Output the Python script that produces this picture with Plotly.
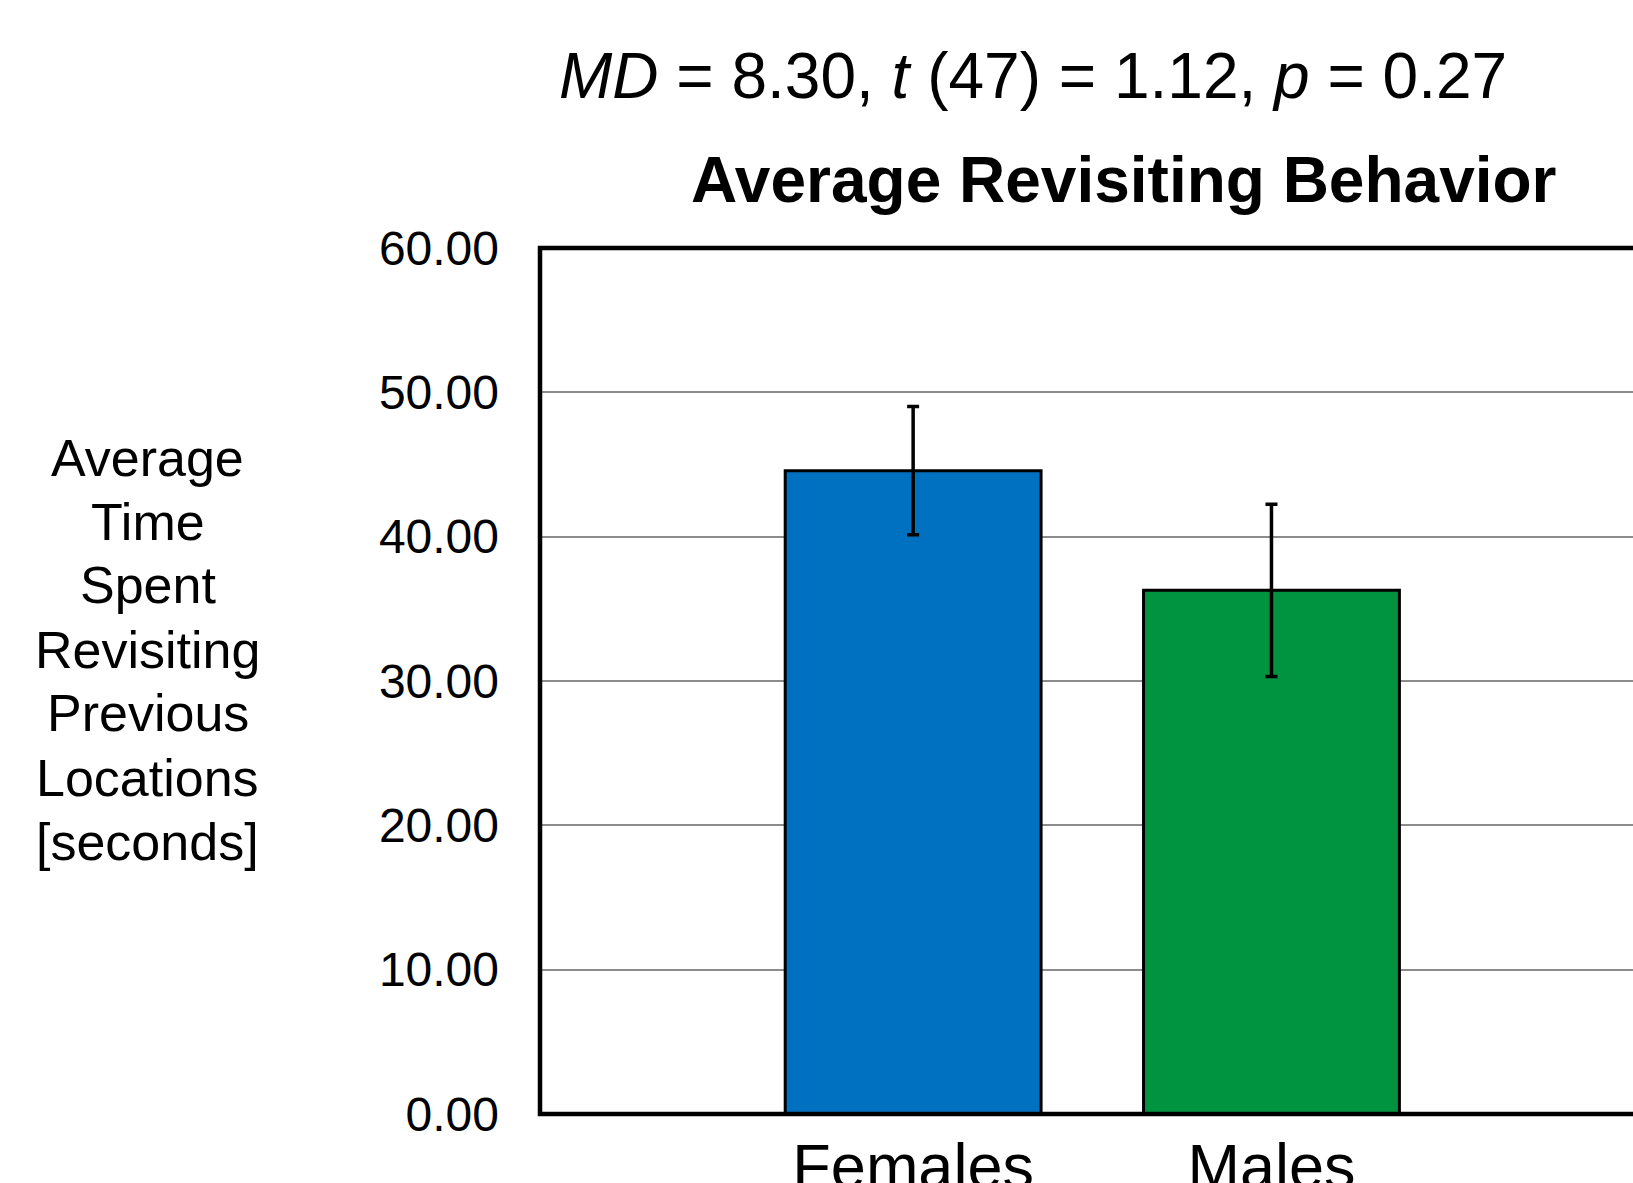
import plotly.graph_objects as go

# ---- data ----
categories = ["Females", "Males"]
means = [44.57, 36.28]
errors = [4.44, 5.97]
bar_colors = ["#0070C0", "#009340"]
y_ticks = [0, 10, 20, 30, 40, 50, 60]
y_tick_labels = ["0.00", "10.00", "20.00", "30.00", "40.00", "50.00", "60.00"]
y_title_lines = ["Average", "Time", "Spent", "Revisiting", "Previous", "Locations", "[seconds]"]
chart_title = "Average Revisiting Behavior"
stats_text = "<i>MD</i> = 8.30, <i>t</i> (47) = 1.12, <i>p</i> = 0.27"

FONT = "Liberation Sans, Arial, sans-serif"
W, H = 1633, 1183
L, T, B = 539.5, 248, 1114

fig = go.Figure()
fig.add_trace(go.Bar(
    x=categories, y=means,
    marker=dict(color=bar_colors, line=dict(color="black", width=3)),
    width=0.714,
    error_y=dict(type="data", array=errors, color="black", thickness=3.5, width=6),
))

plot_w = W - L
plot_h = B - T

def px_x(p):
    return (p - L) / plot_w

def px_y(p):
    return (B - p) / plot_h

annotations = []
# y-axis title, one line per annotation
line_centers = [458.3, 521.8, 585.3, 649.9, 713.4, 778.0, 841.5]
for txt, yc in zip(y_title_lines, line_centers):
    annotations.append(dict(text=txt, xref="paper", yref="paper", x=px_x(147), y=px_y(yc),
                            xanchor="center", yanchor="middle", showarrow=False,
                            font=dict(family=FONT, size=52, color="black")))
annotations.append(dict(text="<b>" + chart_title + "</b>", xref="paper", yref="paper",
                        x=px_x(1124), y=px_y(180), xanchor="center", yanchor="middle",
                        showarrow=False, font=dict(family=FONT, size=64, color="black")))
annotations.append(dict(text=stats_text, xref="paper", yref="paper",
                        x=px_x(1033), y=px_y(76), xanchor="center", yanchor="middle",
                        showarrow=False, font=dict(family=FONT, size=64, color="black")))

fig.update_layout(
    width=W, height=H,
    margin=dict(l=L, r=0, t=T, b=H - B, pad=0, autoexpand=False),
    paper_bgcolor="white", plot_bgcolor="white",
    showlegend=False,
    annotations=annotations,
    shapes=[dict(type="path", xref="paper", yref="paper",
                 path="M 1.05 1 L 0 1 L 0 0 L 1.05 0",
                 line=dict(color="black", width=4.5), layer="above")],
)
fig.update_xaxes(
    type="category", range=[-1.0413, 2.0089],
    showline=False, showgrid=False, ticks="", automargin=False,
    anchor="free", position=0,
    tickfont=dict(family=FONT, size=63, color="black"),
    ticklabelstandoff=10,
)
fig.update_yaxes(
    range=[0, 60], tickvals=y_ticks, ticktext=y_tick_labels,
    showline=False,
    showgrid=True, gridcolor="#8C8C8C", gridwidth=2, zeroline=False,
    ticks="", automargin=False,
    tickfont=dict(family=FONT, size=48, color="black"),
    ticklabelstandoff=40,
)

fig.write_html("out.html")
